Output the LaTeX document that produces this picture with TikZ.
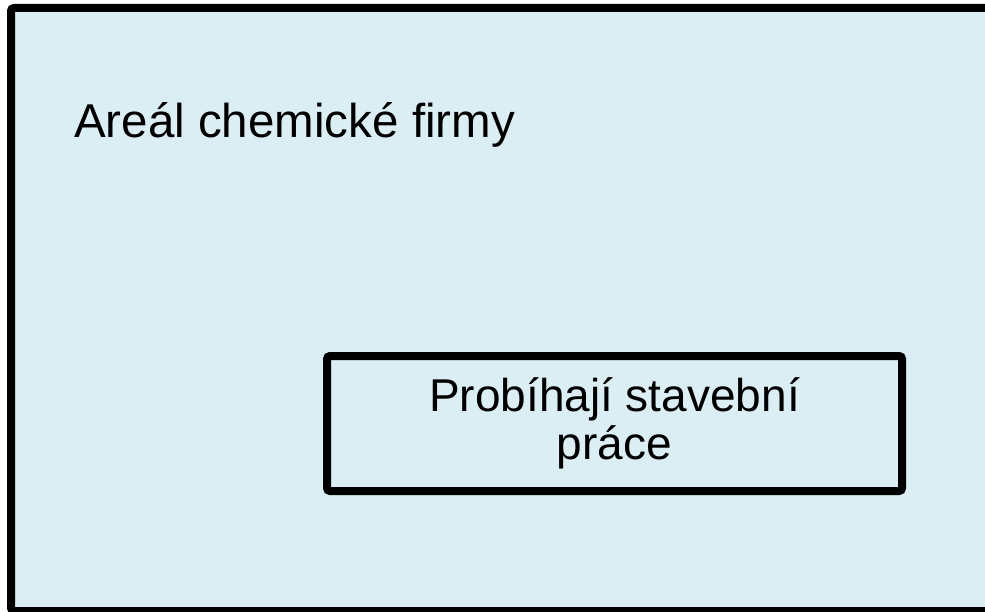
\documentclass[tikz,border=0pt]{standalone}
\usepackage{fontspec}
\setmainfont{Liberation Sans}
\usepackage{tikz}
\definecolor{arealblue}{RGB}{219,238,244}

\begin{document}
\begin{tikzpicture}[x=1pt, y=-1pt,
  frame/.style={draw=black, line width=8pt, fill=arealblue, rounded corners=3pt},
  label/.style={font=\fontsize{46}{48}\selectfont, inner sep=0pt}]
\useasboundingbox (0,0) rectangle (985,612);
\clip (0,0) rectangle (985,612);
\node (areal) [frame, minimum width=990pt, minimum height=603pt, anchor=north west] at (7,4) {};
\node (title) [label, font=\fontsize{47.5}{48}\selectfont, anchor=base west] at (74,138) {Areál chemické firmy};
\node (works) [frame, label, align=center, minimum width=575pt, minimum height=135pt] at (614.5,423.5) {Probíhají stavební\\práce};

\end{tikzpicture}
\end{document}
